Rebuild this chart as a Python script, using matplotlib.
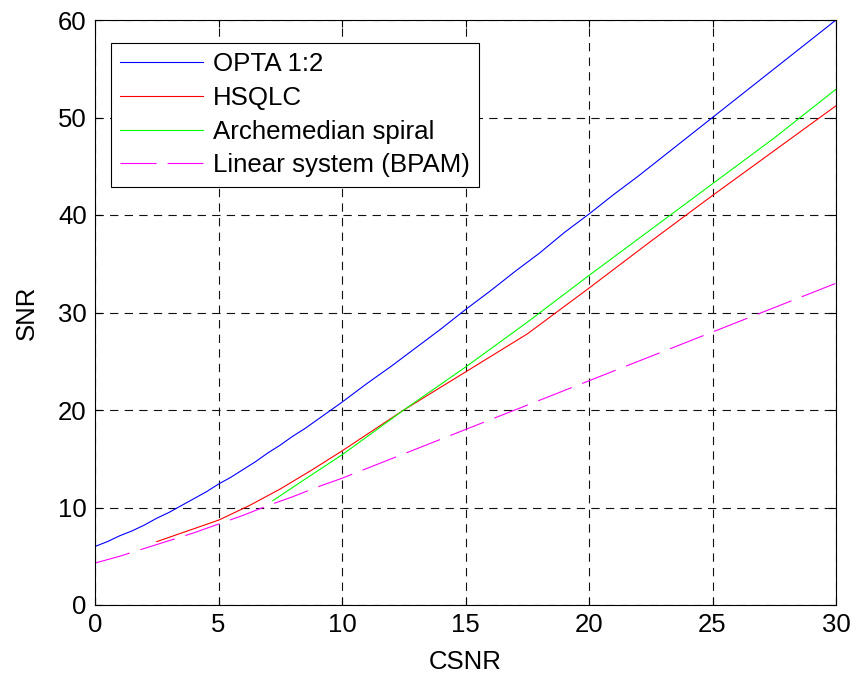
import matplotlib
matplotlib.use("Agg")
import matplotlib.pyplot as plt

plt.rcParams['font.family'] = ['Liberation Sans', 'DejaVu Sans']
plt.rcParams['lines.scale_dashes'] = False

# OPTA 1:2 bound
x_opta = [0, 0.5, 1, 1.5, 2, 2.5, 3, 3.5, 4, 4.5, 5, 5.5, 6, 6.5, 7, 7.5, 8, 8.5, 9, 9.5, 10,
          11, 12, 13, 14, 15, 16, 17, 18, 19, 20, 21, 22, 23, 24, 25, 26, 27, 28, 29, 30]
y_opta = [6.0, 6.5, 7.1, 7.6, 8.2, 8.9, 9.5, 10.2, 10.9, 11.6, 12.4, 13.1, 13.9, 14.7, 15.6,
          16.4, 17.3, 18.1, 19.0, 19.9, 20.8,
          22.7, 24.5, 26.4, 28.3, 30.3, 32.2, 34.2, 36.1, 38.2,
          40.1, 42.1, 44.0, 46.0, 48.0, 50.0, 52.0, 54.0, 56.0, 58.0, 60.0]

# HSQLC
x_hsqlc = [2.5, 5, 6.25, 7.5, 8.75, 10, 11.25, 12.5, 15, 17.5, 20, 22.5, 25, 27.5, 30]
y_hsqlc = [6.5, 8.7, 10.2, 11.9, 13.8, 15.8, 17.9, 20.0, 23.9, 27.8, 32.5, 37.3, 42.0, 46.6, 51.2]

# Archemedian spiral
x_arch = [7.2, 8.5, 10, 11.25, 12.5, 15, 17.5, 20, 22.5, 25, 27.5, 30]
y_arch = [10.7, 12.9, 15.4, 17.7, 20.0, 24.4, 29.0, 33.8, 38.5, 43.2, 47.9, 52.9]

# Linear system (BPAM)
x_bpam = list(range(0, 31))
y_bpam = [4.3, 5.0, 5.8, 6.6, 7.4, 8.3, 9.2, 10.2, 11.1, 12.1,
          13.0, 14.0, 15.0, 16.0, 17.0, 18.0, 19.0, 20.0, 21.0, 22.0,
          23.0, 24.0, 25.0, 26.0, 27.0, 28.0, 29.0, 30.0, 31.0, 32.0, 33.0]

fig = plt.figure(figsize=(8.65, 6.75), dpi=100)
ax = fig.add_axes([95/865, 1-605/675, 741/865, 585/675])

ax.plot(x_opta, y_opta, color='#0000ff', linewidth=0.8, label='OPTA 1:2')
ax.plot(x_hsqlc, y_hsqlc, color='#ff0000', linewidth=0.8, label='HSQLC')
ax.plot(x_arch, y_arch, color='#00ff00', linewidth=0.8, label='Archemedian spiral')
ax.plot(x_bpam, y_bpam, color='#ff00ff', linewidth=0.8, dashes=(26, 8),
        label='Linear system (BPAM)')

ax.set_xlim(0, 30)
ax.set_ylim(0, 60)
ax.set_xticks(range(0, 31, 5))
ax.set_yticks(range(0, 61, 10))
ax.tick_params(direction='in', top=True, right=True, labelsize=18.5, length=5, width=0.8, pad=6)
ax.grid(True, color='#111111', linestyle=(0, (6, 4.5)), linewidth=0.8)
for s in ax.spines.values():
    s.set_linewidth(0.8)

ax.set_xlabel('CSNR', fontsize=18.5, labelpad=9)
ax.set_ylabel('SNR', fontsize=18.5, labelpad=14)

leg = ax.legend(loc='upper left', bbox_to_anchor=(16/741, 1-23/585), fontsize=18.6,
                handlelength=3.2, handletextpad=0.4, labelspacing=0.38,
                borderpad=0.35, fancybox=False, framealpha=1, borderaxespad=0)
leg.get_frame().set_edgecolor('black')
leg.get_frame().set_linewidth(0.8)

fig.savefig('out.png', dpi=100)
